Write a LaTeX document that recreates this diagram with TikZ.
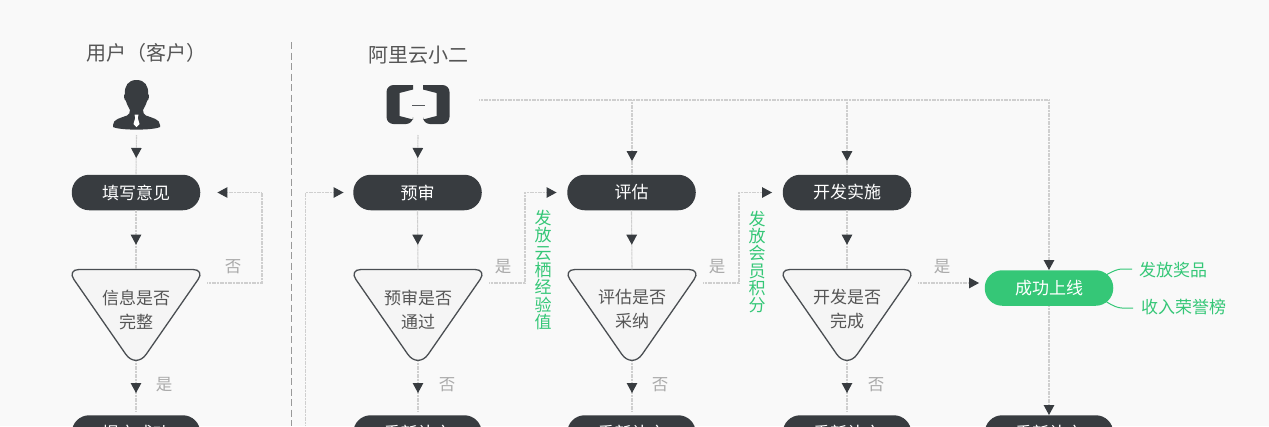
\documentclass[tikz,border=0pt]{standalone}
\usepackage{fontspec}
\setmainfont{Noto Sans CJK SC}
\usepackage{tikz}
\usetikzlibrary{arrows.meta,decorations.markings}
\definecolor{pagebg}{HTML}{F9F9F9}
\definecolor{darkbox}{HTML}{383C40}
\definecolor{flowgreen}{HTML}{35C777}
\definecolor{linegray}{HTML}{CFCFCF}
\definecolor{labelgray}{HTML}{AAAAAA}
\definecolor{titlegray}{HTML}{555555}
\definecolor{trifill}{HTML}{F5F5F5}
\definecolor{triline}{HTML}{4A4E52}
\tikzset{
	pillbox/.style={fill=darkbox, text=white, rounded corners=17.5pt, minimum width=128.5pt, minimum height=35.5pt, inner sep=0pt, font=\fontsize{17}{20}\selectfont},
	qtext/.style={text=titlegray, align=center, inner sep=0pt, font=\fontsize{17}{24}\selectfont},
	title/.style={text=titlegray, inner sep=0pt, font=\fontsize{20}{24}\selectfont},
	answer/.style={text=labelgray, inner sep=0pt, font=\fontsize{16.5}{20}\selectfont},
	greentext/.style={text=flowgreen, inner sep=0pt, align=center, font=\fontsize{17}{17.3}\selectfont},
	flow/.style={draw=linegray, line width=1.1pt, dash pattern=on 1.2pt off 0.4pt},
	flowend/.style={flow, -{Triangle[length=10pt,width=10.5pt,color=darkbox]}},
	midarrow/.style={flow, postaction={decorate}, decoration={markings, mark=at position #1 with {\arrow{Triangle[length=10pt,width=10.5pt,color=darkbox]}}}},
}
\newcommand{\lowtext}[2]{\raisebox{#1}{#2}}
% question triangle: name, x, two lines of text
\newcommand{\qbox}[3]{
	\draw[triline, fill=trifill, line width=1.3pt, rounded corners=12pt] ({#2-69},269.5) -- ({#2+69},269.5) [rounded corners=18pt] -- (#2,369) [rounded corners=12pt] -- cycle;
	\node[qtext] (#1) at (#2,309.5) {#3};
	\coordinate (#1top) at (#2,269.5);
	\coordinate (#1bot) at (#2,361);
	\coordinate (#1right) at ({#2+71},283);
}
\begin{document}
\begin{tikzpicture}[x=1pt, y=-1pt]
	\fill[pagebg] (0,0) rectangle (1269,426);
	\useasboundingbox (0,0) rectangle (1269,426);
	\clip (0,0) rectangle (1269,426);

	% divider
	\coordinate (divtop) at (291,42);
	\coordinate (divbot) at (291,426);
	\draw[gray!80, line width=1pt, dash pattern=on 7pt off 3.5pt] (divtop) -- (divbot);

	\node[title] (usertitle) at (146,53) {用户（客户）};
	\node[title] (stafftitle) at (418.5,55) {阿里云小二};

	% person icon
	\fill[darkbox] (136.5,80) .. controls (128,80) and (124.5,86) .. (124.8,94)
		.. controls (123.5,95) and (124,100) .. (126,101)
		.. controls (127,105) and (129,108) .. (130,110)
		.. controls (130,113) and (129,114.5) .. (127,115.5)
		.. controls (121,118) and (113,119) .. (113,125)
		-- (113,127) .. controls (120,130.5) and (153,130.5) .. (160,127) -- (160,125)
		.. controls (160,119) and (152,118) .. (146,115.5)
		.. controls (144,114.5) and (143,113) .. (143,110)
		.. controls (144,108) and (146,105) .. (147,101)
		.. controls (149,100) and (149.5,95) .. (148.2,94)
		.. controls (148.5,86) and (145,80) .. (136.5,80) -- cycle;
	\fill[white] (134.5,114.5) -- (138.5,114.5) -- (137.8,118) -- (139.5,124) -- (136.5,127) -- (133.5,124) -- (135.2,118) -- cycle;
	\coordinate (usericon) at (136.5,135);

	% cloud logo
	\fill[darkbox, rounded corners=7pt] (413,85) -- (386.5,85) -- (386.5,124) -- (413,124) [sharp corners] -- (413,119.5) -- (399.5,116) -- (399.5,93) -- (413,89.5) -- cycle;
	\fill[darkbox, rounded corners=7pt] (423,85) -- (449.5,85) -- (449.5,124) -- (423,124) [sharp corners] -- (423,119.5) -- (436.5,116) -- (436.5,93) -- (423,89.5) -- cycle;
	\fill[darkbox!85] (412,104.5) rectangle (425,106);
	\coordinate (staffdown) at (418,135);
	\coordinate (staffright) at (479,100);
	\coordinate (bus2) at (632,100);
	\coordinate (bus3) at (847,100);
	\coordinate (bus4) at (1049,100);

	% top row
	\node[pillbox] (fill) at (136,192.5) {\lowtext{-0.7pt}{填写意见}};
	\node[pillbox] (pre) at (417.5,192.5) {\lowtext{-0.7pt}{预审}};
	\node[pillbox] (eval) at (631.5,192.5) {\lowtext{-0.7pt}{评估}};
	\node[pillbox] (dev) at (847,192.5) {\lowtext{-0.7pt}{开发实施}};

	\qbox{qinfo}{136}{信息是否\\完整}
	\qbox{qpre}{418}{预审是否\\通过}
	\qbox{qeval}{632}{评估是否\\采纳}
	\qbox{qdev}{847}{开发是否\\完成}

	\node[pillbox, fill=flowgreen] (online) at (1049,288) {\lowtext{-0.7pt}{成功上线}};

	% bottom row
	\node[pillbox] (done1) at (136,433) {\lowtext{-3.5pt}{提交成功}};
	\node[pillbox] (redo1) at (417.5,433) {\lowtext{-3.5pt}{重新补充}};
	\node[pillbox] (redo2) at (631.5,433) {\lowtext{-3.5pt}{重新补充}};
	\node[pillbox] (redo3) at (847,433) {\lowtext{-3.5pt}{重新补充}};
	\node[pillbox] (redo4) at (1049,433) {\lowtext{-3.5pt}{重新补充}};

	% vertical connectors
	\draw[midarrow=0.58] (usericon) -- (fill.north);
	\draw[midarrow=0.58] (fill.south) -- (qinfotop);
	\draw[midarrow=0.64] (qinfobot) -- (136,411);
	\draw[midarrow=0.58] (staffdown) -- (pre.north);
	\draw[midarrow=0.58] (pre.south) -- (qpretop);
	\draw[midarrow=0.64] (qprebot) -- (418,411);
	\draw[midarrow=0.58] (eval.south) -- (qevaltop);
	\draw[midarrow=0.64] (qevalbot) -- (632,411);
	\draw[midarrow=0.58] (dev.south) -- (qdevtop);
	\draw[midarrow=0.64] (qdevbot) -- (847,411);

	% bus from the logo
	\draw[flow] (staffright) -- (bus4);
	\draw[midarrow=0.82] (bus2) -- (eval.north -| bus2);
	\draw[midarrow=0.82] (bus3) -- (dev.north);
	\draw[flowend] (bus4) -- (online.north);
	\draw[flowend] (online.south) -- (redo4.north);

	% yes and no branches
	\draw[flowend, shorten >=17pt] (qinforight) -- (262,283) -- (262,192.5) -- (fill.east);
	\draw[flowend, shorten >=10.5pt] (qpreright) -- (525,283) -- (525,192.5) -- (eval.west);
	\draw[flowend, shorten >=10.5pt] (qevalright) -- (739,283) -- (739,192.5) -- (dev.west);
	\draw[flowend, shorten >=5.5pt] (qdevright) -- (online.west |- qdevright);
	\coordinate (backin) at (305.5,426);
	\draw[flowend, shorten >=9.5pt] (backin) -- (305.5,192.5) -- (pre.west);

	\node[answer] (no1) at (233,266.5) {否};
	\node[answer] (yes1) at (164,384.5) {是};
	\node[answer] (yes2) at (503,266.5) {是};
	\node[answer] (no2) at (447,384.5) {否};
	\node[answer] (yes3) at (717,266.5) {是};
	\node[answer] (no3) at (660,384.5) {否};
	\node[answer] (yes4) at (942,266.5) {是};
	\node[answer] (no4) at (876,384.5) {否};

	% rewards
	\node[greentext] (reward1) at (543,270) {发\\放\\云\\栖\\经\\验\\值};
	\node[greentext] (reward2) at (757,262) {发\\放\\会\\员\\积\\分};
	\node[greentext, anchor=west] (prize) at (1139,270) {发放奖品};
	\node[greentext, anchor=west] (honor) at (1141,307) {收入荣誉榜};
	\draw[flowgreen, line width=1pt] (1106,275) .. controls (1113,271) and (1118,269) .. (1122,269) -- (1132,269);
	\draw[flowgreen, line width=1pt] (1106,301.5) .. controls (1113,306) and (1118,308) .. (1122,308) -- (1133,308);
\end{tikzpicture}
\end{document}
